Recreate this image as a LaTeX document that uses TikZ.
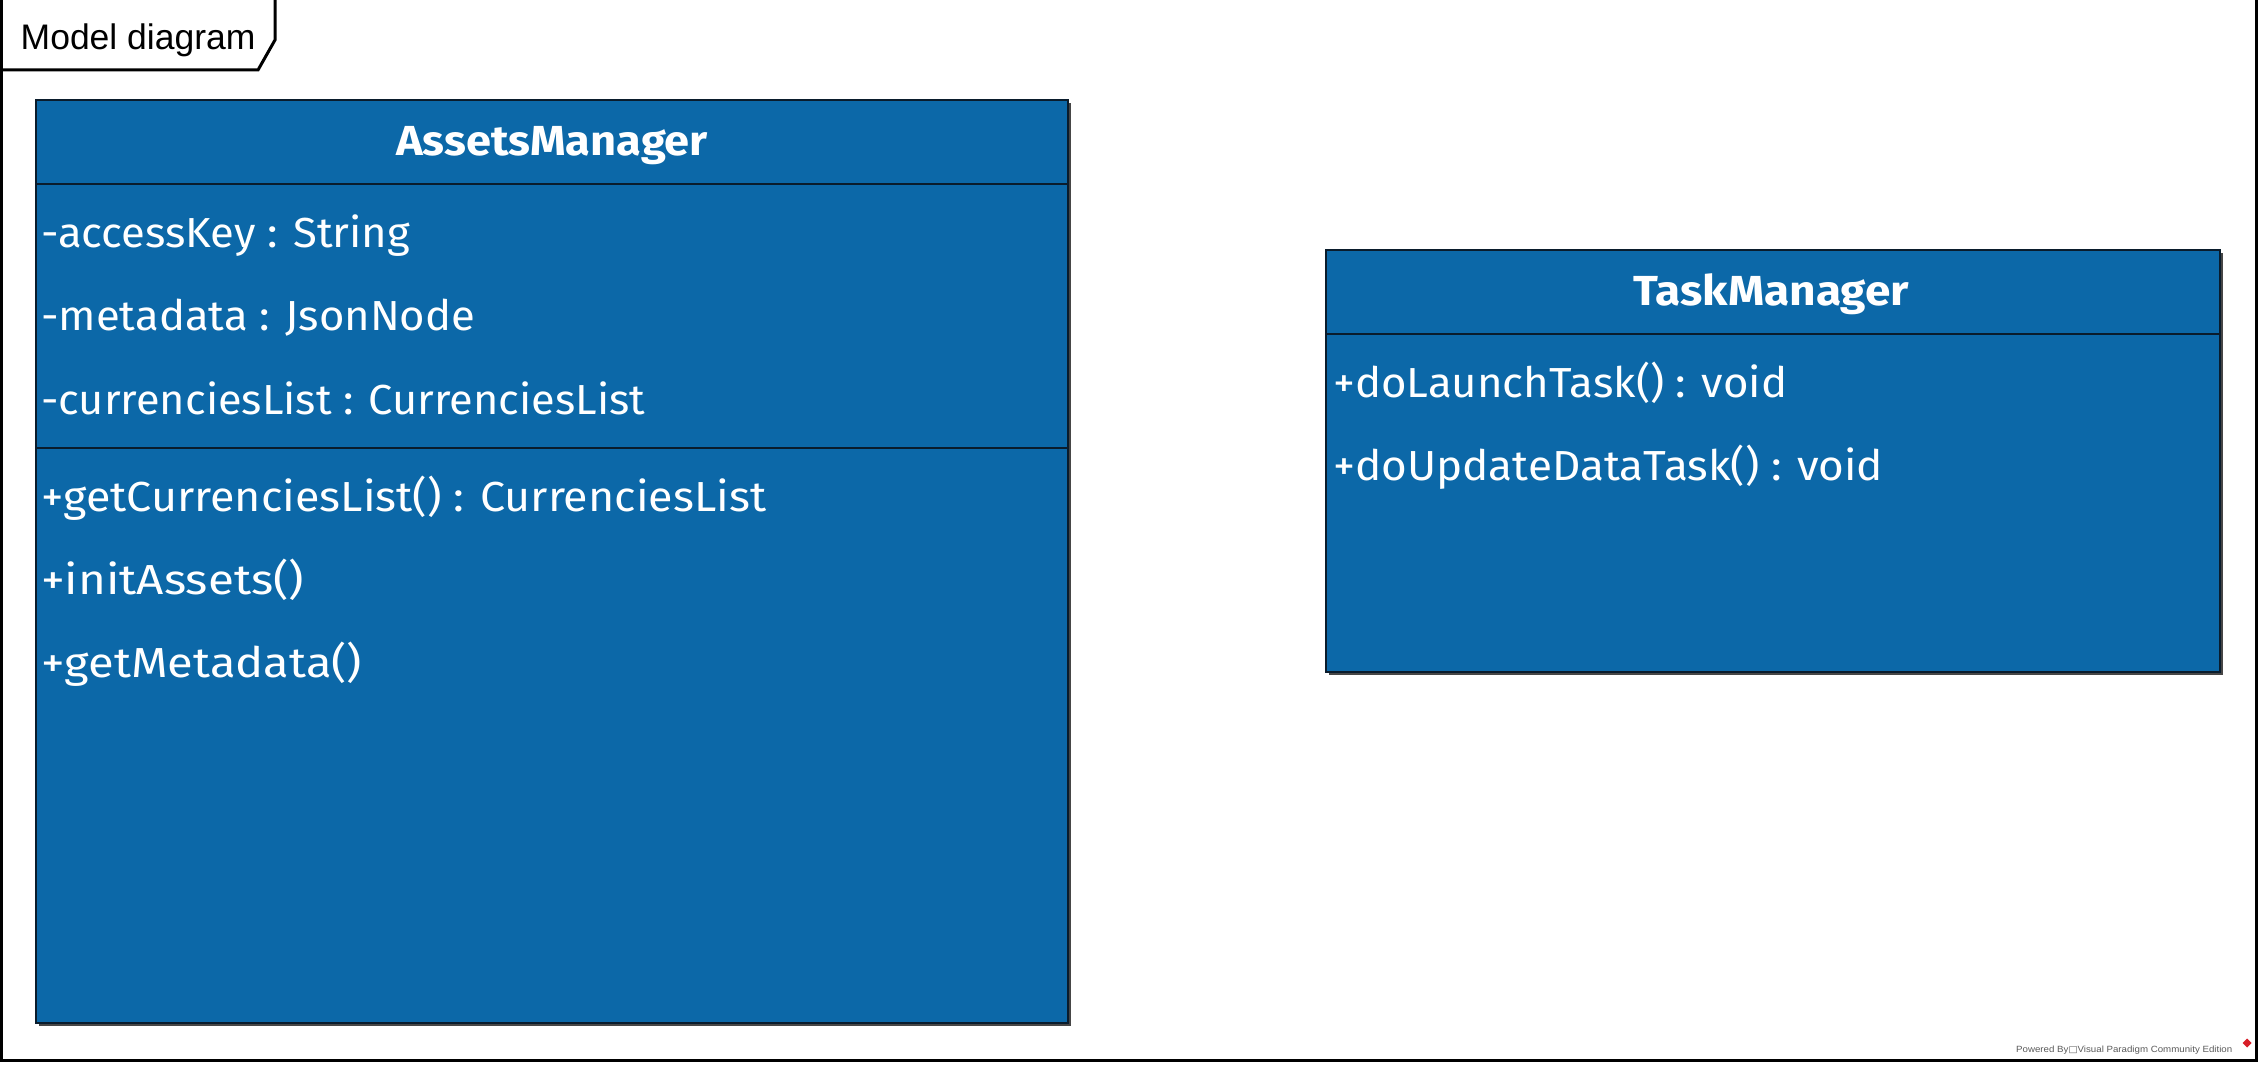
\documentclass[tikz,border=0pt]{standalone}
\usepackage{fontspec}
\setmainfont{Fira Sans}
\newfontfamily\arialf{Liberation Sans}
\newfontfamily\dejavuf{DejaVu Sans}
\usetikzlibrary{shadows}
\definecolor{umlfill}{RGB}{12,104,168}
\definecolor{umlline}{RGB}{10,28,44}
\definecolor{shadowgray}{RGB}{70,70,70}
\definecolor{vpred}{RGB}{215,30,40}
\definecolor{vpgray}{RGB}{90,90,90}
\newlength\myfitlen
\newcommand\myfit[2]{\settowidth\myfitlen{#2}\pgfmathsetmacro\myfitf{#1/\myfitlen}\scalebox{\myfitf}[1]{#2}}
\tikzset{
  classbox/.style={draw=umlline, line width=2pt, fill=umlfill,
    general shadow={shadow xshift=2.5pt, shadow yshift=-2.5pt, fill=shadowgray},
    inner sep=0pt, outer sep=0pt},
  sepline/.style={draw=umlline, line width=2.5pt},
  member/.style={anchor=base west, inner sep=0pt, text=white, font=\fontsize{42}{50}\selectfont},
  classname/.style={anchor=base, inner sep=0pt, text=white, font=\fontsize{42}{50}\selectfont\bfseries},
  frameline/.style={draw=black, line width=3pt},
  titletext/.style={anchor=base west, inner sep=0pt, font=\arialf\fontsize{35.5}{40}\selectfont},
  credit/.style={anchor=base west, inner sep=0pt, text=vpgray, font=\arialf\fontsize{9}{10}\selectfont},
}
\begin{document}
\begin{tikzpicture}[x=1pt,y=-1pt]
\useasboundingbox (0,0) rectangle (2259,1065);
% frame
\draw[frameline] (1.3,0) -- (1.3,1060.7) -- (2256.5,1060.7) -- (2256.5,0);
\draw[frameline] (0,70) -- (258,70) -- (275,40) -- (275,0);
\node[titletext] (title) at (20.5,50) {Model diagram};

% AssetsManager
\node[classbox, minimum width=1032pt, minimum height=923pt] (am) at (552,561.5) {};
\coordinate (amh) at (0,184);
\coordinate (ama) at (0,448);
\draw[sepline] (am.west |- amh) -- (am.east |- amh);
\draw[sepline] (am.west |- ama) -- (am.east |- ama);
\node[classname] (amname) at (552,155) {\myfit{312}{AssetsManager}};
\node[member] (am1) at (41,247) {\myfit{369}{-accessKey : String}};
\node[member] (am2) at (41,330.5) {\myfit{434}{-metadata : JsonNode}};
\node[member] (am3) at (41,414) {\myfit{604}{-currenciesList : CurrenciesList}};
\node[member] (am4) at (41,511) {\myfit{725}{+getCurrenciesList() : CurrenciesList}};
\node[member] (am5) at (41,594) {\myfit{263}{+initAssets()}};
\node[member] (am6) at (41,677) {\myfit{321}{+getMetadata()}};

% TaskManager
\node[classbox, minimum width=894pt, minimum height=422pt] (tm) at (1773,461) {};
\coordinate (tmh) at (0,334);
\draw[sepline] (tm.west |- tmh) -- (tm.east |- tmh);
\node[classname] (tmname) at (1771,305) {\myfit{276}{TaskManager}};
\node[member] (tm1) at (1333,397) {\myfit{454}{+doLaunchTask() : void}};
\node[member] (tm2) at (1333,480) {\myfit{550}{+doUpdateDataTask() : void}};

% credit
\node[credit] (pb) at (2016,1052) {\myfit{216}{Powered By{\dejavuf □}Visual Paradigm Community Edition}};
\fill[vpred] (2247,1038.5) -- (2251.5,1043) -- (2247,1047.5) -- (2242.5,1043) -- cycle;
\end{tikzpicture}
\end{document}
